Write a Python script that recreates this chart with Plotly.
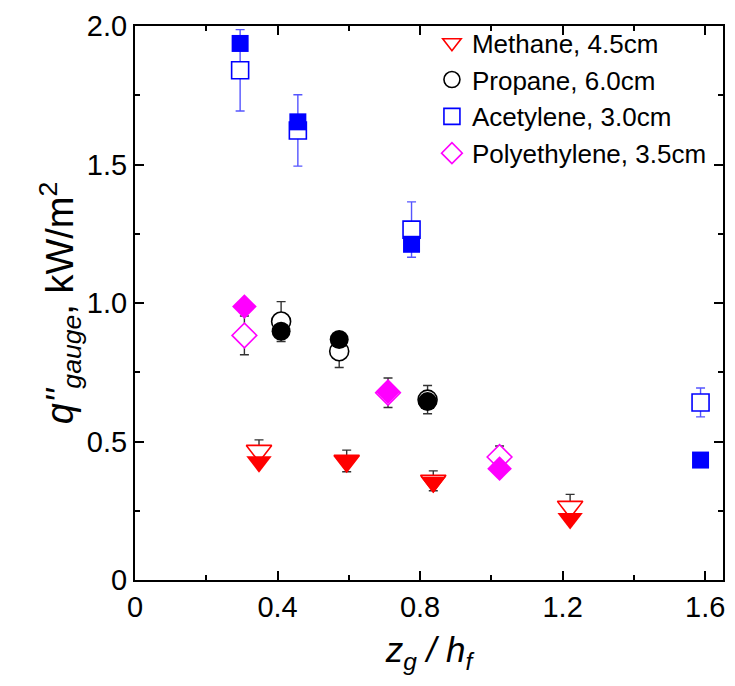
import plotly.graph_objects as go

# Heat flux measured at the gauge vs. normalised gauge height.
# Open symbols: measured (with error bars); filled symbols: model.
methane_x = [0.348, 0.594, 0.837, 1.221]
methane_open = [0.466, 0.430, 0.358, 0.264]
methane_err = [0.040, 0.039, 0.036, 0.045]
methane_fill = [0.427, 0.430, 0.353, 0.222]

propane_x = [0.410, 0.573, 0.821]
propane_open = [0.933, 0.826, 0.651]
propane_err = [0.072, 0.059, 0.051]
propane_fill = [0.898, 0.868, 0.644]

acetylene_x = [0.295, 0.457, 0.776, 1.587]
acetylene_open = [1.840, 1.623, 1.265, 0.641]
acetylene_err = [0.147, 0.129, 0.100, 0.052]
acetylene_fill = [1.937, 1.654, 1.212, 0.433]

poly_x = [0.307, 0.710, 1.023]
poly_open = [0.883, 0.676, 0.444]
poly_err = [0.070, 0.053, 0.040]
poly_fill = [0.987, 0.680, 0.402]

x_ticks = [0, 0.4, 0.8, 1.2, 1.6]
x_labels = ["0", "0.4", "0.8", "1.2", "1.6"]
y_ticks = [0, 0.5, 1.0, 1.5, 2.0]
y_labels = ["0", "0.5", "1.0", "1.5", "2.0"]

series = [
    ("Methane, 4.5cm", methane_x, methane_open, methane_err, methane_fill,
     "#ff0000", "triangle-down", 22, "#333333"),
    ("Propane, 6.0cm", propane_x, propane_open, propane_err, propane_fill,
     "#000000", "circle", 19, "#333333"),
    ("Acetylene, 3.0cm", acetylene_x, acetylene_open, acetylene_err, acetylene_fill,
     "#0000ff", "square", 17, "#5555ff"),
    ("Polyethylene, 3.5cm", poly_x, poly_open, poly_err, poly_fill,
     "#ff00ff", "diamond", 19, "#333333"),
]

fig = go.Figure()
for name, xs, y_open, err, y_fill, color, symbol, size, ecolor in series:
    fig.add_trace(go.Scatter(
        x=xs, y=y_open, mode="markers", name=name,
        marker=dict(symbol=symbol, size=size, color="white",
                    line=dict(color=color, width=1.6)),
        error_y=dict(type="data", array=err, visible=True,
                     color=ecolor, thickness=1.4, width=4.5),
    ))
    fig.add_trace(go.Scatter(
        x=xs, y=y_fill, mode="markers", name=name, showlegend=False,
        marker=dict(symbol=symbol, size=size, color=color,
                    line=dict(color=color, width=0)),
    ))

font_family = "Liberation Sans, Arial, sans-serif"

fig.update_layout(
    width=735, height=686,
    margin=dict(l=135, r=10, t=21, b=106),
    paper_bgcolor="white", plot_bgcolor="white",
    font=dict(family=font_family, color="black"),
    showlegend=True,
    legend=dict(x=0.505, y=1.012, xanchor="left", yanchor="top",
                bgcolor="rgba(0,0,0,0)", font=dict(size=26),
                itemwidth=30, tracegroupgap=0),
    xaxis=dict(
        range=[0, 1.65], tickvals=x_ticks, ticktext=x_labels,
        ticks="inside", ticklen=9, tickwidth=1.5, tickcolor="black",
        minor=dict(dtick=0.2, ticks="inside", ticklen=5, tickwidth=1.5,
                   tickcolor="black", showgrid=False),
        showline=True, linecolor="black", linewidth=2, mirror="ticks",
        showgrid=False, zeroline=False,
        tickfont=dict(size=29),
        title=dict(text="<i>z</i><sub><i>g</i></sub><i> / h</i><sub><i>f</i></sub>",
                   font=dict(size=35), standoff=16),
    ),
    yaxis=dict(
        range=[0, 2.0], tickvals=y_ticks, ticktext=y_labels,
        ticks="inside", ticklen=9, tickwidth=1.5, tickcolor="black",
        minor=dict(dtick=0.25, ticks="inside", ticklen=5, tickwidth=1.5,
                   tickcolor="black", showgrid=False),
        showline=True, linecolor="black", linewidth=2, mirror="ticks",
        showgrid=False, zeroline=False,
        tickfont=dict(size=29),
        title=dict(text="<i>q''</i><sub><i>gauge</i></sub>, kW/m<sup>2</sup>",
                   font=dict(size=38), standoff=2),
    ),
)

fig.write_html("out.html")
